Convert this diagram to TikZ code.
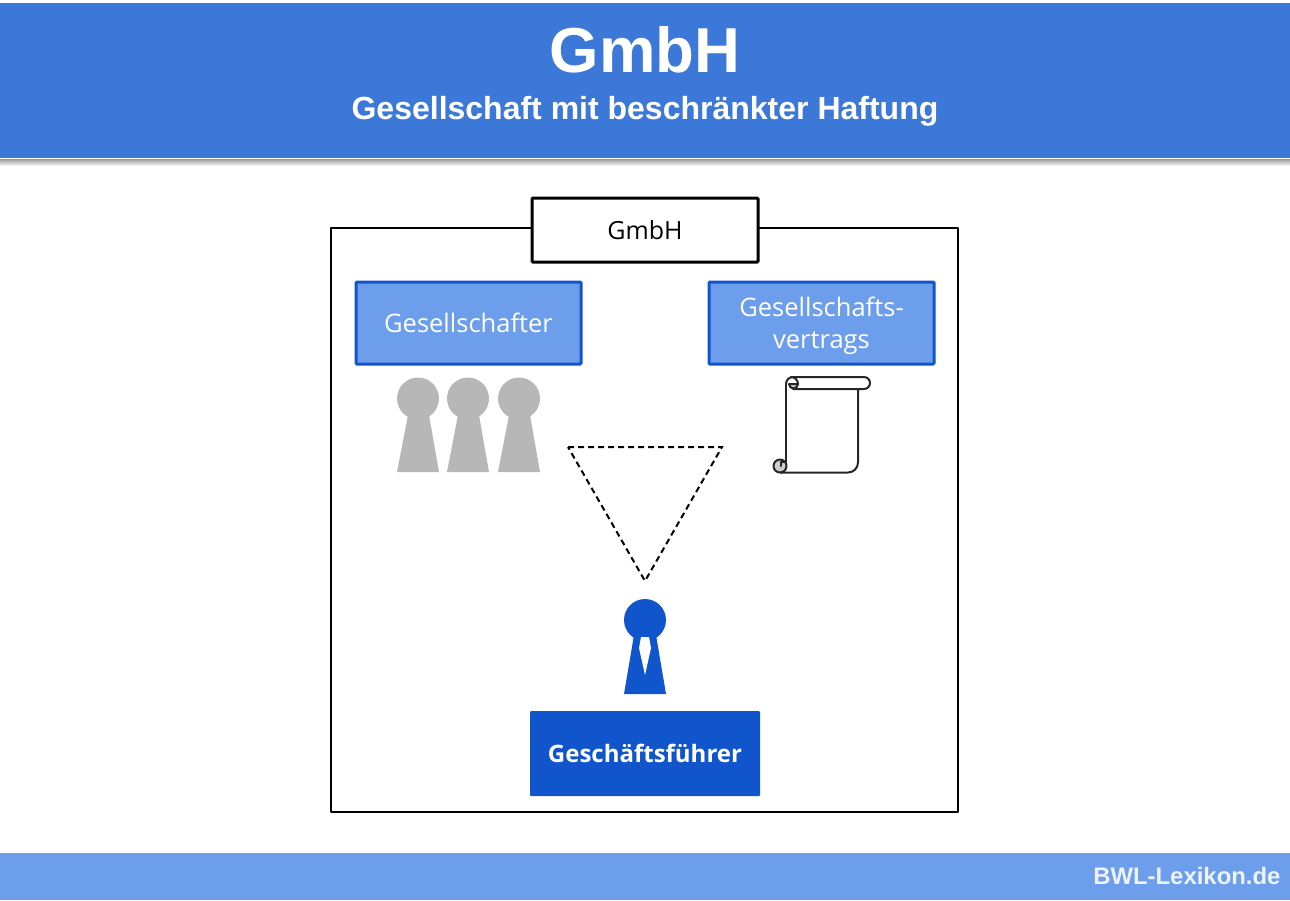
\documentclass[tikz,border=0pt]{standalone}
\usepackage{fontspec}
\setmainfont{Open Sans}
\newfontfamily\headfont{Liberation Sans}
\usetikzlibrary{positioning}
\definecolor{headblue}{HTML}{3C78D8}
\definecolor{lightblue}{HTML}{6D9EEB}
\definecolor{darkblue}{HTML}{1155CC}
\definecolor{figgrey}{HTML}{B7B7B7}
\tikzset{
	bluebox/.style = {shape=rectangle, rounded corners=1pt, draw=darkblue, line width=3pt, fill=lightblue,
		text=white, align=center, minimum width=225pt, minimum height=82pt, inner sep=0pt,
		font=\fontsize{25.5}{32}\selectfont},
	bossbox/.style = {shape=rectangle, rounded corners=1pt, fill=darkblue, text=white,
		minimum width=230pt, minimum height=85pt, inner sep=0pt,
		font=\fontsize{24}{30}\selectfont\bfseries},
	titlebox/.style = {shape=rectangle, rounded corners=1pt, draw=black, line width=3pt, fill=white,
		minimum width=226pt, minimum height=64pt, inner sep=0pt,
		font=\fontsize{25}{30}\selectfont},
	pawn/.style = {fill=#1, draw=none},
	scrollline/.style = {draw=black!85, line width=2pt, line join=round, line cap=round}
}
\newcommand{\figpawn}[2]{%
	\fill[pawn=#2] (#1,398.5) circle (21);
	\fill[pawn=#2] (#1-10,415) -- (#1+11,415) -- (#1+21,472) -- (#1-21,472) -- cycle;
}
\begin{document}
\begin{tikzpicture}[x=1pt, y=-1pt]
	\useasboundingbox (0,0) rectangle (1290,900);
	% header
	\fill[top color=black!40, bottom color=white] (0,159) rectangle (1290,166);
	\fill[headblue] (0,3) rectangle (1290,158);
	\node[text=white, font=\headfont\fontsize{63.5}{70}\selectfont\bfseries] (headline) at (645,50) {GmbH};
	\node[text=white, font=\headfont\fontsize{32}{36}\selectfont\bfseries] (subline) at (645,111) {Gesellschaft mit beschränkter Haftung};
	% footer
	\fill[lightblue] (0,853) rectangle (1290,900);
	\node[anchor=east, text=white!88!lightblue, font=\headfont\fontsize{23.9}{28}\selectfont\bfseries] (source) at (1284,876) {BWL-Lexikon.de};
	% frame
	\draw[line width=2pt, line join=round] (331,228) rectangle (958,812);
	\node[titlebox] (gmbh) at (645,230) {GmbH};
	\node[bluebox] (gesellschafter) at (468.5,323) {Gesellschafter};
	\node[bluebox] (vertrag) at (821.5,323) {};
	\node[text=white, align=center, inner sep=0pt, font=\fontsize{25.5}{32}\selectfont] (vertragtext) at (821.5,326) {Gesellschafts-\\vertrags};
	\node[bossbox] (boss) at (645,753.5) {Geschäftsführer};
	% shareholders
	\figpawn{418}{figgrey}
	\figpawn{468}{figgrey}
	\figpawn{519}{figgrey}
	% triangle
	\coordinate (triA) at (568,447);
	\coordinate (triB) at (722,447);
	\coordinate (triC) at (645,581);
	\draw[line width=2pt, dash pattern=on 6pt off 4pt] (triA) -- (triB) -- (triC) -- (triA);
	% manager
	\fill[pawn=darkblue] (645,620) circle (21);
	\fill[pawn=darkblue] (634,635) -- (656,635) -- (666,694) -- (624,694) -- cycle;
	\fill[white] (641,637) -- (649,637) -- (651,648) -- (645,675) -- (639,648) -- cycle;
	% scroll
	\draw[scrollline, fill=figgrey!70] (780,466) circle (6.5);
	\draw[scrollline] (786,462) -- (781,462) -- (781,466);
	\draw[scrollline] (786,384) -- (786,462);
	\draw[scrollline] (780,472.5) -- (848,472.5) arc (90:0:10) -- (858,389);
	\draw[scrollline] (786,384) arc (180:270:7) -- (864,377) arc (-90:90:6) -- (793,389);
	\draw[scrollline, fill=figgrey!70] (798,384) arc (0:180:4.5) -- cycle;
	\draw[scrollline] (798,384) arc (0:-90:7);
\end{tikzpicture}
\end{document}
